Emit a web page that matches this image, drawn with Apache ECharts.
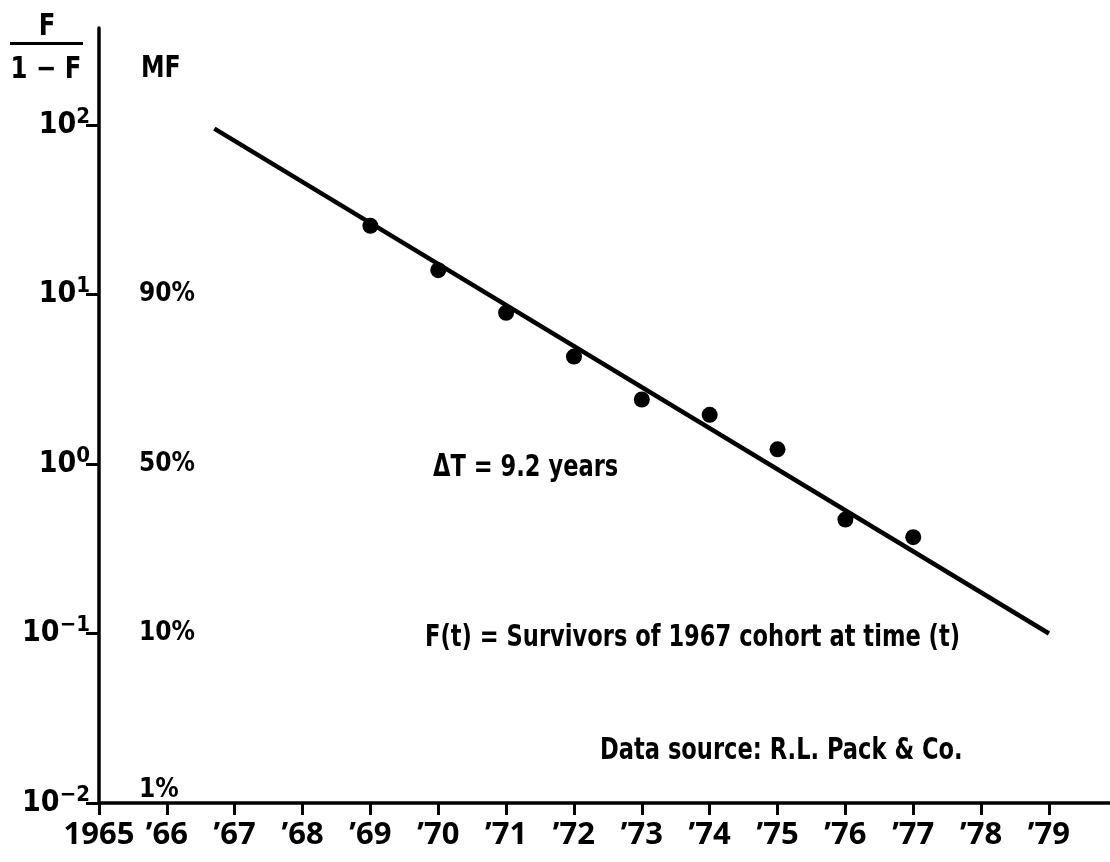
<!DOCTYPE html>
<html>
<head>
<meta charset="utf-8">
<script src="https://cdn.jsdelivr.net/npm/echarts@6/dist/echarts.min.js"></script>
<style>
  html, body { margin: 0; padding: 0; background: #fff; }
  #main { width: 1110px; height: 862px; }
</style>
</head>
<body>
<div id="main"></div>
<script>
// survivors of the 1967 cohort, F/(1-F)
var years = [1969, 1970, 1971, 1972, 1973, 1974, 1975, 1976, 1977];
var ratio = [25.4, 13.9, 7.8, 4.3, 2.4, 1.95, 1.22, 0.47, 0.37];

// fitted straight line (end points)
var fitYears = [1966.7, 1979];
var fitRatio = [95, 0.1];

// axis ticks and labels
var yearTicks = [1965, 1966, 1967, 1968, 1969, 1970, 1971, 1972, 1973, 1974, 1975, 1976, 1977, 1978, 1979];
var decadeTicks = [0.01, 0.1, 1, 10, 100];
var decadeExp = ['\u22122', '\u22121', '0', '1', '2'];
var mfTicks = [0.01, 0.1, 1, 10];
var mfLabels = ['1%', '10%', '50%', '90%'];

var FONT = "'DejaVu Sans Condensed', 'DejaVu Sans', sans-serif";

var myChart = echarts.init(document.getElementById('main'));

// narrow bold text for the notes
function note(x, y, text, size, sx, align) {
    return {
        type: 'text', x: x, y: y, scaleX: sx,
        style: { text: text, font: 'bold ' + size + 'px ' + FONT, fill: '#000', align: align || 'left', verticalAlign: 'middle' }
    };
}

var option = {
    backgroundColor: '#fff',
    animation: false,
    grid: { left: 99, right: 0, top: 28, bottom: 59 },
    xAxis: {
        type: 'value',
        min: 1965,
        max: 1979.9,
        interval: 1,
        splitLine: { show: false },
        axisLine: { lineStyle: { color: '#000', width: 3.5 } },
        axisTick: { customValues: yearTicks, length: 12, lineStyle: { color: '#000', width: 3 } },
        axisLabel: {
            customValues: yearTicks,
            margin: 17,
            color: '#000',
            fontFamily: "'Noto Sans', sans-serif",
            fontWeight: 'bold',
            fontSize: 31,
            formatter: function (v) {
                return v === 1965 ? '1965' : '\u2019' + String(v).slice(2);
            }
        }
    },
    yAxis: [{
        type: 'log',
        min: 0.01,
        max: 373,
        splitLine: { show: false },
        axisLine: { lineStyle: { color: '#000', width: 3.5 } },
        axisTick: { customValues: decadeTicks, length: 13, lineStyle: { color: '#000', width: 3 } },
        axisLabel: {
            customValues: decadeTicks,
            margin: 9,
            formatter: function (v) {
                var i = decadeTicks.indexOf(v);
                return '{b|10}{s|' + decadeExp[i] + '}';
            },
            rich: {
                b: { fontFamily: FONT, fontWeight: 'bold', fontSize: 30, color: '#000', lineHeight: 38 },
                s: { fontFamily: FONT, fontWeight: 'bold', fontSize: 22, color: '#000', verticalAlign: 'top', lineHeight: 38 }
            }
        }
    }, {
        type: 'log',
        position: 'left',
        min: 0.01,
        max: 373,
        splitLine: { show: false },
        axisLine: { show: false },
        axisTick: { show: false },
        axisLabel: {
            customValues: mfTicks,
            inside: true,
            margin: 40,
            formatter: function (v) {
                var i = mfTicks.indexOf(v);
                return i === 0 ? '{lo|' + mfLabels[i] + '}' : '{n|' + mfLabels[i] + '}';
            },
            rich: {
                n: { fontFamily: FONT, fontWeight: 'bold', fontSize: 26, color: '#000' },
                lo: { fontFamily: FONT, fontWeight: 'bold', fontSize: 26, color: '#000', padding: [0, 0, 26, 0] }
            }
        }
    }],
    series: [{
        type: 'line',
        yAxisIndex: 0,
        data: fitYears.map(function (y, i) { return [y, fitRatio[i]]; }),
        showSymbol: false,
        symbol: 'none',
        lineStyle: { color: '#000', width: 4.5 },
        z: 2
    }, {
        type: 'scatter',
        yAxisIndex: 0,
        data: years.map(function (y, i) { return [y, ratio[i]]; }),
        symbol: 'circle',
        symbolSize: 16,
        itemStyle: { color: '#000', opacity: 1 },
        z: 3
    }],
    graphic: [
        note(47, 27, 'F', 30, 0.9, 'center'),
        { type: 'rect', shape: { x: 10, y: 42, width: 73, height: 3 }, style: { fill: '#000' } },
        note(46, 70, '1 \u2212 F', 30, 0.9, 'center'),
        note(141, 69, 'MF', 31, 0.85),
        note(433, 468, '\u0394T = 9.2 years', 31, 0.81),
        note(425, 638, 'F(t) = Survivors of 1967 cohort at time (t)', 31, 0.81),
        note(600, 751, 'Data source: R.L. Pack & Co.', 31, 0.81)
    ]
};

myChart.setOption(option);
</script>
</body>
</html>
